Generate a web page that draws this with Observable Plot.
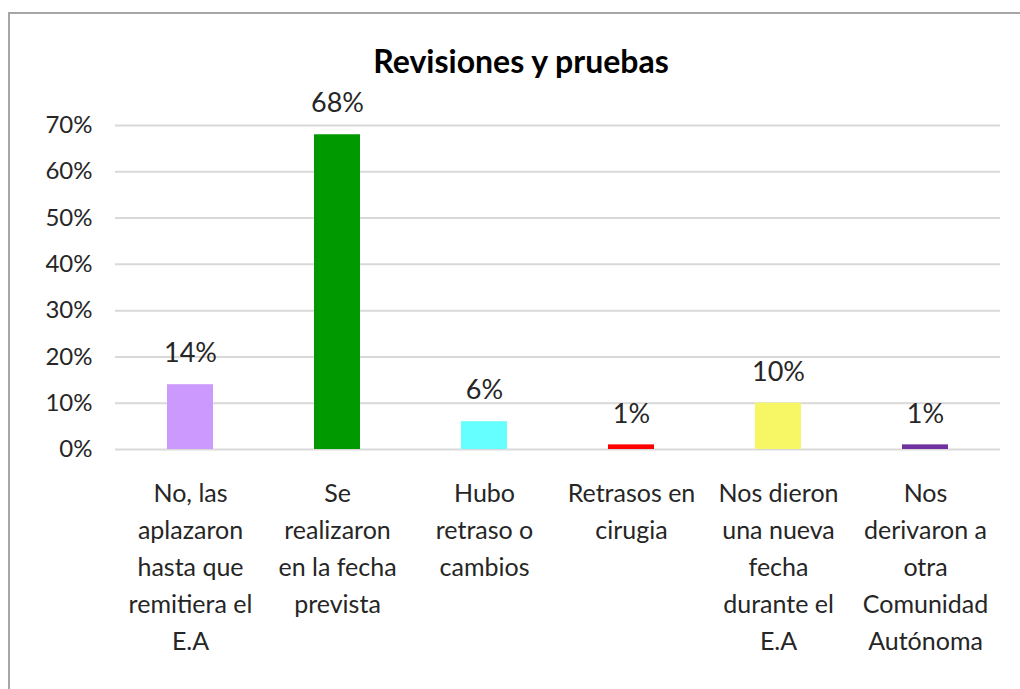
<!DOCTYPE html>
<html>
<head>
<meta charset="utf-8">
<script src="https://cdn.jsdelivr.net/npm/d3@7"></script>
<script src="https://cdn.jsdelivr.net/npm/@observablehq/plot@0.6"></script>
<style>
  html, body { margin: 0; padding: 0; background: #fff; }
  #wrap { position: relative; width: 1020px; height: 689px; overflow: hidden; font-family: Lato, "Liberation Sans", sans-serif; }
  #frame { position: absolute; left: 8px; top: 12px; width: 1100px; height: 800px; border: 2px solid #a6a6a6; box-sizing: border-box; }
  #title { position: absolute; left: 0; width: 1042px; top: 42px; text-align: center; font-weight: bold; font-size: 32px; color: #000; line-height: 38px; }
  #chart { position: absolute; left: 0; top: 0; }
</style>
</head>
<body>
<div id="wrap">
  <div id="frame"></div>
  <div id="chart"></div>
  <div id="title">Revisiones y pruebas</div>
</div>
<script>
const categories = [
  "No, las aplazaron hasta que remitiera el E.A",
  "Se realizaron en la fecha prevista",
  "Hubo retraso o cambios",
  "Retrasos en cirugia",
  "Nos dieron una nueva fecha durante el E.A",
  "Nos derivaron a otra Comunidad Autónoma"
];
const tickLabels = [
  "No, las\naplazaron\nhasta que\nremitiera el\nE.A",
  "Se\nrealizaron\nen la fecha\nprevista",
  "Hubo\nretraso o\ncambios",
  "Retrasos en\ncirugia",
  "Nos dieron\nuna nueva\nfecha\ndurante el\nE.A",
  "Nos\nderivaron a\notra\nComunidad\nAutónoma"
];
const values = [0.14, 0.68, 0.06, 0.01, 0.10, 0.01];
const valueLabels = ["14%", "68%", "6%", "1%", "10%", "1%"];
const colors = ["#CC99FF", "#009900", "#66FFFF", "#FF0000", "#F7F766", "#7030A0"];
const yTicks = [0, 0.1, 0.2, 0.3, 0.4, 0.5, 0.6, 0.7];

const data = categories.map((c, i) => ({cat: c, value: values[i], label: valueLabels[i]}));
const tickMap = new Map(categories.map((c, i) => [c, tickLabels[i]]));

const chart = Plot.plot({
  width: 1020,
  height: 689,
  marginTop: 125,
  marginBottom: 240,
  marginLeft: 115,
  marginRight: 20,
  style: {fontFamily: "Lato, 'Liberation Sans', sans-serif", color: "#262626", background: "transparent", overflow: "visible"},
  x: {domain: categories, paddingInner: 0.69, paddingOuter: 0.345, label: null},
  y: {domain: [0, 0.7], label: null},
  color: {domain: categories, range: colors},
  marks: [
    Plot.gridY(yTicks, {stroke: "#d9d9d9", strokeWidth: 2, strokeOpacity: 1}),
    Plot.barY(data, {x: "cat", y: "value", fill: "cat"}),
    Plot.text(data, {x: "cat", y: "value", text: "label", lineAnchor: "middle", dy: -31, fontSize: 27, fill: "#262626"}),
    Plot.axisY(yTicks, {tickSize: 0, tickPadding: 23, fontSize: 24, tickFormat: d3.format(".0%"), label: null}),
    Plot.axisX({tickSize: 0, tickPadding: 26, fontSize: 25, lineHeight: 1.48, tickFormat: d => tickMap.get(d), label: null})
  ]
});
document.getElementById("chart").appendChild(chart);
</script>
</body>
</html>
